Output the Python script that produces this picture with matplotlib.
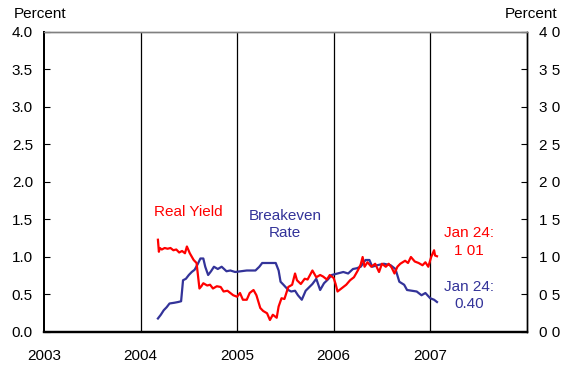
import matplotlib
matplotlib.use("Agg")
import matplotlib.pyplot as plt

plt.rcParams['font.family'] = ['Liberation Sans', 'DejaVu Sans']

# Real yield (percent), decimal-year dates
real_dates = [2004.18, 2004.19, 2004.20, 2004.22, 2004.25, 2004.28, 2004.31, 2004.34, 2004.37, 2004.40,
              2004.43, 2004.46, 2004.48, 2004.51, 2004.55, 2004.58, 2004.61, 2004.63, 2004.65, 2004.69,
              2004.72, 2004.75, 2004.79, 2004.83, 2004.86, 2004.90, 2004.93, 2004.96, 2005.00, 2005.03,
              2005.06, 2005.10, 2005.13, 2005.17, 2005.20, 2005.24, 2005.27, 2005.31, 2005.34, 2005.37,
              2005.41, 2005.43, 2005.46, 2005.49, 2005.53, 2005.57, 2005.60, 2005.62, 2005.66, 2005.70,
              2005.73, 2005.78, 2005.82, 2005.86, 2005.89, 2005.93, 2005.96, 2006.00, 2006.02, 2006.04,
              2006.08, 2006.13, 2006.17, 2006.21, 2006.25, 2006.28, 2006.30, 2006.32, 2006.35, 2006.39,
              2006.43, 2006.47, 2006.50, 2006.54, 2006.57, 2006.60, 2006.63, 2006.66, 2006.69, 2006.74,
              2006.77, 2006.80, 2006.84, 2006.88, 2006.92, 2006.95, 2006.98, 2007.01, 2007.04, 2007.05,
              2007.07]
real_yield = [1.23, 1.07, 1.12, 1.10, 1.12, 1.11, 1.12, 1.09, 1.10, 1.06,
              1.08, 1.05, 1.14, 1.05, 0.96, 0.92, 0.58, 0.61, 0.65, 0.62,
              0.63, 0.58, 0.61, 0.60, 0.54, 0.55, 0.52, 0.49, 0.47, 0.52,
              0.43, 0.43, 0.52, 0.56, 0.49, 0.32, 0.28, 0.25, 0.16, 0.23,
              0.19, 0.34, 0.45, 0.44, 0.60, 0.63, 0.78, 0.69, 0.64, 0.71,
              0.70, 0.82, 0.73, 0.76, 0.74, 0.70, 0.76, 0.72, 0.64, 0.54,
              0.58, 0.63, 0.69, 0.73, 0.82, 0.90, 1.00, 0.87, 0.93, 0.87,
              0.91, 0.80, 0.91, 0.87, 0.91, 0.86, 0.78, 0.87, 0.91, 0.95,
              0.92, 1.00, 0.94, 0.92, 0.89, 0.93, 0.87, 1.00, 1.09, 1.02,
              1.01]

# Breakeven inflation rate (percent)
be_dates = [2004.18, 2004.21, 2004.24, 2004.27, 2004.30, 2004.35, 2004.39, 2004.42, 2004.44, 2004.47,
            2004.50, 2004.53, 2004.56, 2004.59, 2004.62, 2004.65, 2004.67, 2004.70, 2004.73, 2004.76,
            2004.80, 2004.84, 2004.89, 2004.93, 2004.98, 2005.04, 2005.10, 2005.19, 2005.23, 2005.26,
            2005.33, 2005.40, 2005.43, 2005.45, 2005.48, 2005.53, 2005.56, 2005.60, 2005.63, 2005.67,
            2005.71, 2005.78, 2005.82, 2005.86, 2005.90, 2005.94, 2005.98, 2006.04, 2006.10, 2006.15,
            2006.20, 2006.24, 2006.28, 2006.33, 2006.37, 2006.40, 2006.45, 2006.52, 2006.59, 2006.64,
            2006.68, 2006.73, 2006.76, 2006.81, 2006.86, 2006.91, 2006.95, 2007.00, 2007.04, 2007.07]
breakeven = [0.18, 0.23, 0.29, 0.33, 0.38, 0.39, 0.40, 0.41, 0.69, 0.71,
             0.76, 0.80, 0.83, 0.90, 0.98, 0.98, 0.87, 0.76, 0.81, 0.87,
             0.84, 0.87, 0.81, 0.82, 0.80, 0.81, 0.82, 0.82, 0.87, 0.92,
             0.92, 0.92, 0.82, 0.67, 0.63, 0.56, 0.54, 0.55, 0.49, 0.43,
             0.55, 0.64, 0.71, 0.56, 0.65, 0.70, 0.76, 0.78, 0.80, 0.78,
             0.84, 0.85, 0.87, 0.96, 0.96, 0.87, 0.89, 0.91, 0.89, 0.84,
             0.67, 0.63, 0.56, 0.55, 0.54, 0.49, 0.52, 0.45, 0.43, 0.40]

years = [2003, 2004, 2005, 2006, 2007]
y_ticks = [0.0, 0.5, 1.0, 1.5, 2.0, 2.5, 3.0, 3.5, 4.0]
left_labels = ["0.0", "0.5", "1.0", "1.5", "2.0", "2.5", "3.0", "3.5", "4.0"]
right_labels = ["0 0", "0 5", "1 0", "1 5", "2 0", "2 5", "3 0", "3 5", "4 0"]

RED = "#ff0000"
BLUE = "#333399"
FS = 11

fig = plt.figure(figsize=(5.64, 3.66), dpi=100)
ax = fig.add_axes([0.078, 0.0929, 0.856, 0.8197])

for yr in years[1:]:
    ax.axvline(yr, color="black", lw=0.9, zorder=1)

ax.plot(real_dates, real_yield, color=RED, lw=1.6, zorder=3)
ax.plot(be_dates, breakeven, color=BLUE, lw=1.6, zorder=2)

ax.set_xlim(2003, 2008)
ax.set_ylim(0, 4)
ax.set_xticks(years)
ax.set_xticklabels([str(y) for y in years], fontsize=FS)
ax.tick_params(axis="x", length=0, pad=12)
ax.set_yticks(y_ticks)
ax.set_yticklabels(left_labels, fontsize=FS)
ax.tick_params(axis="y", direction="in", length=4.5, width=0.8, pad=8)

ax2 = ax.twinx()
ax2.set_ylim(0, 4)
ax2.set_yticks(y_ticks)
ax2.set_yticklabels(right_labels, fontsize=FS)
ax2.tick_params(axis="y", direction="in", length=4.5, width=0.8, pad=8.5)

for a in (ax, ax2):
    a.spines["top"].set_color("#808080")
    a.spines["top"].set_linewidth(1.0)
    a.spines["left"].set_linewidth(1.4)
    a.spines["bottom"].set_linewidth(1.6)
    a.spines["right"].set_linewidth(1.0)

fig.text(0.0248, 0.9508, "Percent", fontsize=FS, ha="left", va="baseline")
fig.text(0.9876, 0.9508, "Percent", fontsize=FS, ha="right", va="baseline")

ax.text(2004.49, 1.60, "Real Yield", color=RED, fontsize=FS, ha="center", va="center")
ax.text(2005.495, 1.43, "Breakeven\nRate", color=BLUE, fontsize=FS, ha="center",
        va="center", linespacing=1.3)
ax.text(2007.40, 1.20, "Jan 24:\n1 01", color=RED, fontsize=FS, ha="center",
        va="center", linespacing=1.3)
ax.text(2007.40, 0.49, "Jan 24:\n0.40", color=BLUE, fontsize=FS, ha="center",
        va="center", linespacing=1.3)

fig.savefig("out.png", dpi=100)
